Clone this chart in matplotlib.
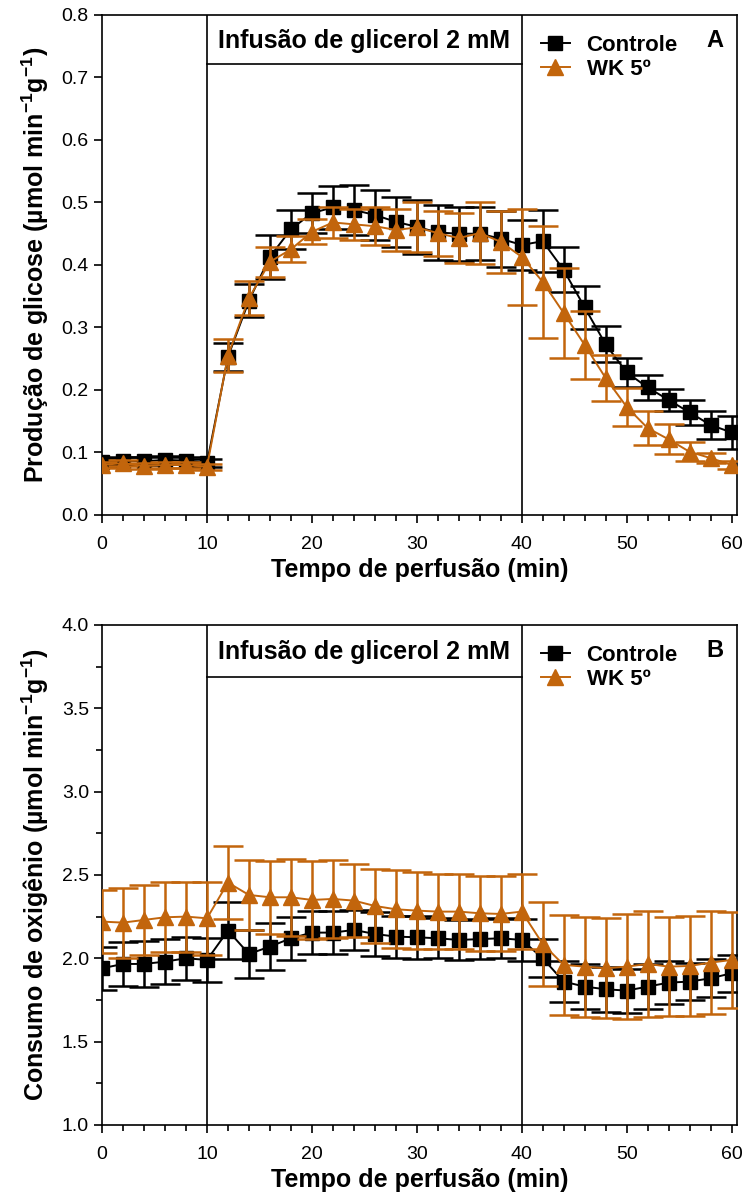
import matplotlib
matplotlib.use("Agg")
import matplotlib.pyplot as plt
from matplotlib.lines import Line2D
from matplotlib.ticker import MultipleLocator, FormatStrFormatter

plt.rcParams['font.family'] = ['Liberation Sans', 'DejaVu Sans']
plt.rcParams['mathtext.fontset'] = 'custom'
plt.rcParams['mathtext.rm'] = 'Liberation Sans:bold'
plt.rcParams['mathtext.bf'] = 'Liberation Sans:bold'
plt.rcParams['mathtext.default'] = 'bf'

# tempo de perfusao (min)
tempo = list(range(0, 61, 2))

# painel A - producao de glicose
ctl_a = [0.085, 0.087, 0.086, 0.088, 0.087, 0.083, 0.253, 0.343, 0.413, 0.457,
         0.483, 0.492, 0.488, 0.480, 0.469, 0.461, 0.452, 0.450, 0.450, 0.442,
         0.432, 0.438, 0.392, 0.332, 0.273, 0.228, 0.204, 0.184, 0.164, 0.144, 0.132]
ctl_a_se = [0.006, 0.006, 0.006, 0.006, 0.006, 0.006, 0.022, 0.027, 0.035, 0.031,
            0.032, 0.035, 0.040, 0.040, 0.040, 0.043, 0.044, 0.043, 0.042, 0.045,
            0.040, 0.050, 0.036, 0.034, 0.029, 0.023, 0.020, 0.018, 0.020, 0.023, 0.027]
wk_a = [0.080, 0.083, 0.078, 0.080, 0.080, 0.077, 0.255, 0.347, 0.405, 0.425,
        0.453, 0.468, 0.465, 0.462, 0.456, 0.460, 0.451, 0.443, 0.451, 0.437,
        0.413, 0.373, 0.323, 0.272, 0.219, 0.173, 0.139, 0.121, 0.101, 0.091, 0.080]
wk_a_se = [0.005, 0.005, 0.005, 0.005, 0.005, 0.005, 0.027, 0.027, 0.024, 0.021,
           0.020, 0.025, 0.025, 0.030, 0.034, 0.040, 0.036, 0.040, 0.050, 0.050,
           0.077, 0.090, 0.072, 0.055, 0.037, 0.030, 0.027, 0.024, 0.015, 0.008, 0.006]

# painel B - consumo de oxigenio
ctl_b = [1.94, 1.966, 1.966, 1.98, 2.0, 1.99, 2.166, 2.026, 2.07, 2.12,
         2.154, 2.154, 2.17, 2.146, 2.13, 2.126, 2.12, 2.11, 2.115, 2.12,
         2.11, 2.0, 1.86, 1.83, 1.814, 1.806, 1.83, 1.854, 1.86, 1.88, 1.91]
ctl_b_se = [0.13, 0.13, 0.14, 0.135, 0.13, 0.13, 0.17, 0.145, 0.14, 0.13,
            0.13, 0.13, 0.12, 0.13, 0.126, 0.13, 0.12, 0.12, 0.12, 0.12,
            0.124, 0.115, 0.125, 0.135, 0.135, 0.132, 0.134, 0.13, 0.11, 0.115, 0.11]
wk_b = [2.22, 2.214, 2.23, 2.246, 2.25, 2.24, 2.454, 2.38, 2.366, 2.366,
        2.35, 2.356, 2.346, 2.314, 2.294, 2.286, 2.28, 2.28, 2.27, 2.266,
        2.28, 2.086, 1.96, 1.95, 1.94, 1.95, 1.966, 1.95, 1.954, 1.974, 1.99]
wk_b_se = [0.19, 0.21, 0.21, 0.21, 0.21, 0.22, 0.22, 0.21, 0.22, 0.23,
           0.235, 0.235, 0.22, 0.22, 0.235, 0.23, 0.225, 0.224, 0.224, 0.225,
           0.224, 0.25, 0.30, 0.30, 0.30, 0.316, 0.316, 0.296, 0.30, 0.31, 0.286]

laranja = '#c2650c'

fig = plt.figure(figsize=(7.45, 11.97), dpi=100)
ax_a = fig.add_axes([0.137, 0.5698, 0.852, 0.4177])
ax_b = fig.add_axes([0.137, 0.0602, 0.852, 0.4177])

paineis = [
    (ax_a, ctl_a, ctl_a_se, wk_a, wk_a_se, (0, 0.8), 0.1, None, 0.722, 0.759, 'A',
     r'Produção de glicose (µmol min$^{-1}$g$^{-1}$)'),
    (ax_b, ctl_b, ctl_b_se, wk_b, wk_b_se, (1.0, 4.0), 0.5, 0.25, 3.69, 3.84, 'B',
     r'Consumo de oxigênio (µmol min$^{-1}$g$^{-1}$)'),
]

for ax, c, cse, w, wse, ylim, ymaj, ymin, yline, ytxt, letra, ylabel in paineis:
    ax.errorbar(tempo, c, yerr=cse, color='black', marker='s', markersize=10.5,
                linewidth=1.4, elinewidth=1.8, capsize=11, capthick=1.8, zorder=3)
    ax.errorbar(tempo, w, yerr=wse, color=laranja, marker='^', markersize=12,
                linewidth=1.4, elinewidth=1.8, capsize=11, capthick=1.8, zorder=4)

    ax.axvline(10, color='black', linewidth=1.2, zorder=2)
    ax.axvline(40, color='black', linewidth=1.2, zorder=2)
    ax.plot([10, 40], [yline, yline], color='black', linewidth=1.2, zorder=2)
    ax.text(25, ytxt, 'Infusão de glicerol 2 mM', ha='center', va='center',
            fontsize=18, fontweight='bold')
    ax.text(0.965, 0.948, letra, transform=ax.transAxes, ha='center', va='center',
            fontsize=17, fontweight='bold')

    ax.set_xlim(0, 60.5)
    ax.set_ylim(*ylim)
    ax.xaxis.set_major_locator(MultipleLocator(10))
    ax.xaxis.set_minor_locator(MultipleLocator(2))
    ax.yaxis.set_major_locator(MultipleLocator(ymaj))
    if ymin:
        ax.yaxis.set_minor_locator(MultipleLocator(ymin))
    ax.yaxis.set_major_formatter(FormatStrFormatter('%.1f'))
    ax.tick_params(which='major', direction='out', length=6, width=1.2, labelsize=14)
    ax.tick_params(which='minor', direction='out', length=4, width=1.2)
    ax.tick_params(axis='x', which='major', pad=9)
    for s in ax.spines.values():
        s.set_linewidth(1.2)

    ax.set_xlabel('Tempo de perfusão (min)', fontsize=18, fontweight='bold', labelpad=4)
    ax.set_ylabel(ylabel, fontsize=18, fontweight='bold', labelpad=8)

    handles = [
        Line2D([], [], color='black', marker='s', markersize=10, linewidth=1.4),
        Line2D([], [], color=laranja, marker='^', markersize=11, linewidth=1.4),
    ]
    leg = ax.legend(handles, ['Controle', 'WK 5º'], loc='upper left',
                    bbox_to_anchor=(0.66, 1.0), frameon=False, fontsize=16,
                    handlelength=1.3, handletextpad=0.75, labelspacing=0.12)
    for t in leg.get_texts():
        t.set_fontweight('bold')

fig.savefig('out.png', dpi=100)
